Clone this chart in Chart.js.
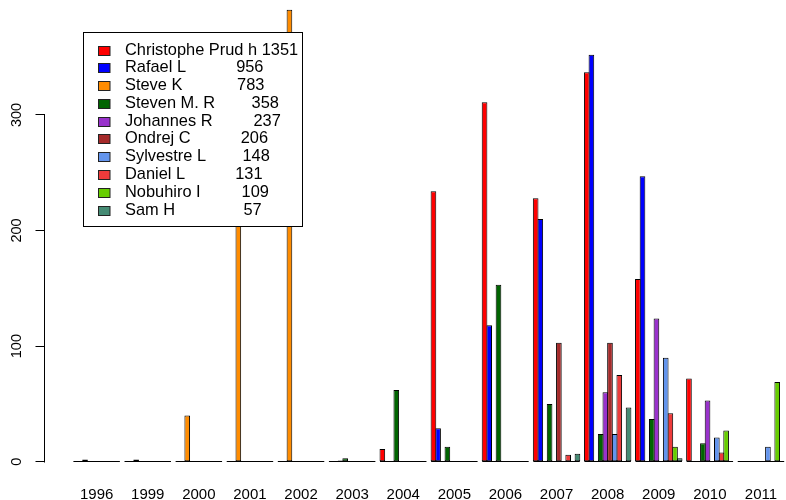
<!DOCTYPE html>
<html><head><meta charset="utf-8">
<script src="https://cdn.jsdelivr.net/npm/chart.js@4.4.0/dist/chart.umd.min.js"></script>
<style>html,body{margin:0;padding:0;background:#fff;overflow:hidden}#wrap{width:786px;height:500px}</style>
</head><body><div id="wrap"><canvas id="c" width="786" height="500"></canvas></div>
<script>
const years = ["1996","1999","2000","2001","2002","2003","2004","2005","2006","2007","2008","2009","2010","2011"];
const names = ["Christophe Prud h","Rafael L","Steve K","Steven M. R","Johannes R","Ondrej C","Sylvestre L","Daniel L","Nobuhiro I","Sam H"];
const totals = [1351,956,783,358,237,206,148,131,109,57];
const colors = ["#FF0000","#0000FF","#FF8C00","#006400","#9932CC","#A52A2A","#6495ED","#EE3B3B","#66CD00","#458B74"];
// commits per author, per year
const christophe = [0,0,0,0,0,0,11,234,311,228,337,158,72,0];
const rafael     = [0,0,0,0,0,0,0,29,118,210,352,247,0,0];
const steveK     = [2,2,40,347,391,1,0,0,0,0,0,0,0,0];
const stevenM    = [0,0,0,0,0,3,62,13,153,50,24,37,16,0];
const johannes   = [0,0,0,0,0,0,0,0,0,0,60,124,53,0];
const ondrej     = [0,0,0,0,0,0,0,0,0,103,103,0,0,0];
const sylvestre  = [0,0,0,0,0,0,0,0,0,0,24,90,21,13];
const daniel     = [0,0,0,0,0,0,0,0,0,6,75,42,8,0];
const nobuhiro   = [0,0,0,0,0,0,0,0,0,0,0,13,27,69];
const samH       = [0,0,0,0,0,0,0,0,0,7,47,3,0,0];
const yTicks = [0,100,200,300];

const series = [christophe,rafael,steveK,stevenM,johannes,ondrej,sylvestre,daniel,nobuhiro,samH];
const FONT = '"Liberation Sans", Arial, Helvetica, sans-serif';
Chart.defaults.font.family = FONT;
Chart.defaults.color = '#000';

const baseline = {
  id: 'baseline',
  afterDatasetsDraw(chart) {
    const ctx = chart.ctx;
    const y = Math.round(chart.scales.y.getPixelForValue(0) - 0.5) + 0.5;
    const first = chart.getDatasetMeta(0).data;
    const last = chart.getDatasetMeta(chart.data.datasets.length - 1).data;
    ctx.save();
    ctx.strokeStyle = '#000'; ctx.lineWidth = 1;
    ctx.beginPath();
    for (let i = 0; i < first.length; i++) {
      ctx.moveTo(first[i].x - first[i].width / 2 + 0.5, y);
      ctx.lineTo(last[i].x + last[i].width / 2 - 0.5, y);
    }
    ctx.stroke();
    ctx.restore();
  }
};

const yAxisLine = {
  id: 'yAxisLine',
  afterDraw(chart) {
    const s = chart.scales.y, ctx = chart.ctx;
    const x = Math.round(s.right) - 0.5;
    ctx.save();
    ctx.strokeStyle = '#000'; ctx.lineWidth = 1;
    ctx.beginPath();
    ctx.moveTo(x, Math.round(s.getPixelForValue(yTicks[0])) + 0.5);
    ctx.lineTo(x, Math.round(s.getPixelForValue(yTicks[yTicks.length - 1])) - 0.5);
    ctx.stroke();
    ctx.restore();
  }
};

const legendBox = {
  id: 'legendBox',
  afterDraw(chart) {
    const ctx = chart.ctx;
    ctx.save();
    const L = 83.5, T = 32.5, W = 219, H = 194;
    ctx.fillStyle = '#fff'; ctx.fillRect(L, T, W, H);
    ctx.strokeStyle = '#000'; ctx.lineWidth = 1; ctx.strokeRect(L, T, W, H);
    ctx.font = '16.4px ' + FONT;
    ctx.textBaseline = 'middle'; ctx.textAlign = 'left';
    names.forEach((n, i) => {
      const y = 50 + i * 17.78;
      ctx.fillStyle = colors[i];
      ctx.fillRect(98.5, Math.round(y - 4.5) + 0.5, 11.5, 9);
      ctx.strokeStyle = '#222';
      ctx.strokeRect(98.5, Math.round(y - 4.5) + 0.5, 11.5, 9);
      ctx.fillStyle = '#000';
      ctx.fillText(n.padEnd(17, ' ') + ' ' + String(totals[i]).padStart(4, ' '), 125, y);
    });
    ctx.restore();
  }
};

new Chart(document.getElementById('c'), {
  type: 'bar',
  data: {
    datasets: series.map((vals, k) => ({
      label: names[k],
      data: vals.map((v, i) => ({ x: i, y: v })),
      backgroundColor: colors[k],
      borderColor: '#000',
      borderWidth: 1,
      borderSkipped: false,
      inflateAmount: 0,
      categoryPercentage: 10 / 11,
      barPercentage: 1.215
    }))
  },
  options: {
    responsive: false,
    animation: false,
    devicePixelRatio: 1,
    layout: { padding: 0 },
    plugins: { legend: { display: false }, tooltip: { enabled: false } },
    scales: {
      x: {
        type: 'linear',
        offset: false,
        min: -1.0205, max: 13.49,
        afterBuildTicks(s) { s.ticks = years.map((_, i) => ({ value: i })); },
        afterFit(s) { s.height = 20; s.paddingLeft = 0; s.paddingRight = 0; },
        grid: { display: false, drawTicks: false, offset: false },
        border: { display: false },
        ticks: {
          autoSkip: false, maxRotation: 0, minRotation: 0, padding: 6,
          font: { size: 15 }, color: '#000',
          callback: (v) => years[v]
        }
      },
      y: {
        min: -15.8, max: 399.4,
        afterBuildTicks(s) { s.ticks = yTicks.map(v => ({ value: v })); },
        afterFit(s) { s.width = 44.5; s.paddingTop = 0; s.paddingBottom = 0; },
        border: { display: false },
        grid: { display: true, drawOnChartArea: false, drawTicks: true, tickLength: 9, color: '#000', lineWidth: 1 },
        ticks: {
          minRotation: 90, maxRotation: 90, crossAlign: 'center', padding: 6,
          font: { size: 14.5 }, color: '#000'
        }
      }
    }
  },
  plugins: [baseline, yAxisLine, legendBox]
});
</script>
</body></html>
